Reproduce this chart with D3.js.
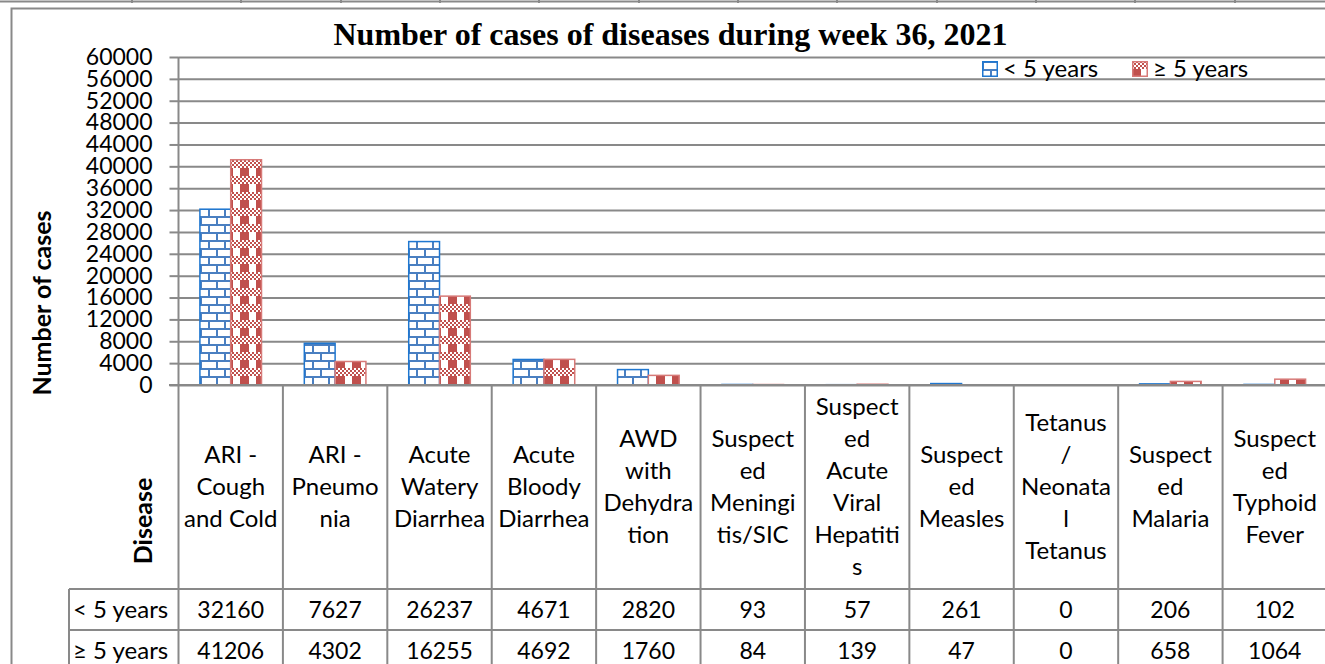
<!DOCTYPE html>
<html>
<head>
<meta charset="utf-8">
<script src="https://cdn.jsdelivr.net/npm/d3@7"></script>
<style>
    html, body { margin: 0; padding: 0; background: #fff; }
    svg { display: block; }
    text { font-family: Lato, "Noto Sans", sans-serif; fill: #000; }
</style>
</head>
<body>
<svg id="chart" width="1325" height="664"></svg>
<script>
// Chart data
var categories = [
    'ARI - Cough and Cold', 'ARI - Pneumonia', 'Acute Watery Diarrhea', 'Acute Bloody Diarrhea',
    'AWD with Dehydration', 'Suspected Meningitis/SIC', 'Suspected Acute Viral Hepatitis',
    'Suspected Measles', 'Tetanus / Neonatal Tetanus', 'Suspected Malaria', 'Suspected Typhoid Fever'
];
// category text as wrapped in the data table cells
var categoryLines = [
    ['ARI -', 'Cough', 'and Cold'],
    ['ARI -', 'Pneumo', 'nia'],
    ['Acute', 'Watery', 'Diarrhea'],
    ['Acute', 'Bloody', 'Diarrhea'],
    ['AWD', 'with', 'Dehydra', 'tion'],
    ['Suspect', 'ed', 'Meningi', 'tis/SIC'],
    ['Suspect', 'ed', 'Acute', 'Viral', 'Hepatiti', 's'],
    ['Suspect', 'ed', 'Measles'],
    ['Tetanus', '/', 'Neonata', 'l', 'Tetanus'],
    ['Suspect', 'ed', 'Malaria'],
    ['Suspect', 'ed', 'Typhoid', 'Fever']
];
var seriesNames = ['< 5 years', '\u2265 5 years'];
var underFive = [32160, 7627, 26237, 4671, 2820, 93, 57, 261, 0, 206, 102];
var fiveAndOver = [41206, 4302, 16255, 4692, 1760, 84, 139, 47, 0, 658, 1064];
var yTicks = d3.range(0, 60001, 4000);

var titleText = 'Number of cases of diseases during week 36, 2021';
var yTitle = 'Number of cases';
var xTitle = 'Disease';

var seriesValues = [underFive, fiveAndOver];

// layout
var W = 1325, H = 664;
var plot = { left: 178.5, right: 1327, top: 57, bottom: 385 };
var table = { labelBottom: 589, row1: 630, row2: 671, headLeft: 69 };
var gridColor = '#898989';
var pageRules = [132, 241, 341, 440, 539, 639, 738, 837, 937, 1036, 1135, 1235];

var svg = d3.select('svg#chart');
var defs = svg.append('defs');

/**
 * Horizontal brick pattern for the under five series.
 */
var brick = defs.append('pattern')
    .attr('id', 'brick')
    .attr('patternUnits', 'userSpaceOnUse')
    .attr('width', 16).attr('height', 16);
brick.append('rect').attr('width', 16).attr('height', 16).attr('fill', '#fff');
brick.append('path')
    .attr('d', 'M0,1H16M0,9H16M1,1V9M9,9V17')
    .attr('stroke', '#4a7fc1').attr('stroke-width', 2).attr('fill', 'none');

/**
 * Plaid pattern for the five and over series.
 */
var plaid = defs.append('pattern')
    .attr('id', 'plaid')
    .attr('patternUnits', 'userSpaceOnUse')
    .attr('width', 16).attr('height', 16);
plaid.append('rect').attr('width', 16).attr('height', 16).attr('fill', '#fff');
for (var py = 0; py < 4; py++) {
    for (var px = 0; px < 8; px++) {
        if ((px + py) % 2 == 0) {
            plaid.append('rect')
                .attr('x', px * 2).attr('y', py * 2)
                .attr('width', 2).attr('height', 2)
                .attr('fill', '#c0504d');
        }
    }
}
plaid.append('rect').attr('x', 0).attr('y', 8).attr('width', 9).attr('height', 8).attr('fill', '#c0504d');

var fills = ['url(#brick)', 'url(#plaid)'];
var strokes = ['#1f77d0', '#d77a78'];

// page remnants above the chart frame
svg.append('line')
    .attr('x1', 0).attr('x2', W).attr('y1', 1.5).attr('y2', 1.5)
    .attr('stroke', gridColor).attr('stroke-width', 2);
svg.selectAll('.pageRule')
    .data(pageRules)
    .enter().append('line')
        .attr('class', 'pageRule')
        .attr('x1', function(d) { return d; }).attr('x2', function(d) { return d; })
        .attr('y1', 0).attr('y2', 3)
        .attr('stroke', gridColor).attr('stroke-width', 2);

// chart frame
svg.append('rect')
    .attr('x', 11.5).attr('y', 8.5)
    .attr('width', W + 20).attr('height', H + 20)
    .attr('fill', 'none').attr('stroke', gridColor).attr('stroke-width', 2);

// scales
var x = d3.scaleBand()
    .domain(categories)
    .range([plot.left, plot.right])
    .paddingInner(0).paddingOuter(0);

var bw = x.bandwidth();
var xs = d3.scaleBand()
    .domain(seriesNames)
    .range([bw * 0.205, bw * 0.795]);

var y = d3.scaleLinear()
    .domain([0, 60000])
    .range([plot.bottom, plot.top]);

// gridlines
var grid = svg.append('g')
    .attr('transform', 'translate(' + plot.left + ',0)')
    .call(d3.axisLeft(y).tickValues(yTicks).tickSize(-(W - plot.left)).tickFormat(''));
grid.select('.domain').remove();
grid.selectAll('line').attr('stroke', gridColor).attr('stroke-width', 2);

// y axis ticks and labels
var yAxis = svg.append('g')
    .attr('transform', 'translate(' + plot.left + ',0)')
    .call(d3.axisLeft(y).tickValues(yTicks).tickSize(9).tickPadding(17).tickFormat(d3.format('d')));
yAxis.select('.domain').remove();
yAxis.selectAll('line').attr('stroke', gridColor).attr('stroke-width', 2);
yAxis.selectAll('text')
    .style('font-family', 'Lato, "Noto Sans", sans-serif')
    .style('font-size', '23px')
    .attr('fill', '#000');

// bars
var groups = svg.selectAll('.series')
    .data(seriesNames)
    .enter().append('g')
        .attr('class', 'series');

groups.each(function(name, si) {
    d3.select(this).selectAll('rect')
        .data(seriesValues[si])
        .enter().append('rect')
            .attr('x', function(d, i) { return x(categories[i]) + xs(name); })
            .attr('y', function(d) { return y(d); })
            .attr('width', xs.bandwidth())
            .attr('height', function(d) { return y(0) - y(d); })
            .attr('fill', fills[si])
            .attr('stroke', function(d) { return d > 0 ? strokes[si] : 'none'; })
            .attr('stroke-width', 1.5);
});

// x axis line, extends left like a tick
svg.append('line')
    .attr('x1', plot.left - 9.5).attr('x2', W)
    .attr('y1', plot.bottom).attr('y2', plot.bottom)
    .attr('stroke', gridColor).attr('stroke-width', 2);

// vertical axis line down through the table
svg.append('line')
    .attr('x1', plot.left).attr('x2', plot.left)
    .attr('y1', plot.top).attr('y2', H)
    .attr('stroke', gridColor).attr('stroke-width', 2);

// data table cell borders
svg.selectAll('.colRule')
    .data(categories.slice(1))
    .enter().append('line')
        .attr('class', 'colRule')
        .attr('x1', function(d) { return x(d); }).attr('x2', function(d) { return x(d); })
        .attr('y1', plot.bottom).attr('y2', H)
        .attr('stroke', gridColor).attr('stroke-width', 2);

svg.selectAll('.rowRule')
    .data([table.labelBottom, table.row1])
    .enter().append('line')
        .attr('class', 'rowRule')
        .attr('x1', table.headLeft).attr('x2', W)
        .attr('y1', function(d) { return d; }).attr('y2', function(d) { return d; })
        .attr('stroke', gridColor).attr('stroke-width', 2);

svg.append('line')
    .attr('x1', table.headLeft).attr('x2', table.headLeft)
    .attr('y1', table.labelBottom).attr('y2', H)
    .attr('stroke', gridColor).attr('stroke-width', 2);

// category labels
var labelMid = (plot.bottom + table.labelBottom) / 2;
var lineH = 32;
var catLabels = svg.selectAll('.catLabel')
    .data(categories)
    .enter().append('text')
        .attr('class', 'catLabel')
        .attr('text-anchor', 'middle')
        .style('font-size', '24px');
catLabels.each(function(d, i) {
    var lines = categoryLines[i];
    var first = labelMid - (lines.length - 1) * lineH / 2;
    d3.select(this).selectAll('tspan')
        .data(lines)
        .enter().append('tspan')
            .attr('x', x(d) + bw / 2)
            .attr('y', function(l, j) { return first + j * lineH; })
            .attr('dy', '0.35em')
            .text(function(l) { return l; });
});

// value rows
var rowMids = [(table.labelBottom + table.row1) / 2, (table.row1 + table.row2) / 2];
seriesNames.forEach(function(name, si) {
    svg.append('text')
        .attr('x', table.headLeft + 4)
        .attr('y', rowMids[si])
        .attr('dy', '0.35em')
        .style('font-size', '24px')
        .text(name);

    svg.selectAll('.val' + si)
        .data(seriesValues[si])
        .enter().append('text')
            .attr('class', 'val' + si)
            .attr('x', function(d, i) { return x(categories[i]) + bw / 2; })
            .attr('y', rowMids[si])
            .attr('dy', '0.35em')
            .attr('text-anchor', 'middle')
            .style('font-size', '23px')
            .text(function(d) { return d; });
});

// title
svg.append('text')
    .attr('x', 670.5)
    .attr('y', 45)
    .attr('text-anchor', 'middle')
    .style('font-family', '"Liberation Serif", "DejaVu Serif", serif')
    .style('font-weight', 'bold')
    .style('font-size', '32px')
    .text(titleText);

// axis titles
svg.append('text')
    .attr('transform', 'translate(42,303) rotate(-90)')
    .attr('text-anchor', 'middle')
    .attr('dy', '0.35em')
    .style('font-weight', 'bold')
    .style('font-size', '25px')
    .text(yTitle);

svg.append('text')
    .attr('transform', 'translate(143,521) rotate(-90)')
    .attr('text-anchor', 'middle')
    .attr('dy', '0.35em')
    .style('font-weight', 'bold')
    .style('font-size', '25px')
    .text(xTitle);

// legend
var legendX = [982, 1132];
var legend = svg.selectAll('.legendItem')
    .data(seriesNames)
    .enter().append('g')
        .attr('class', 'legendItem')
        .attr('transform', function(d, i) { return 'translate(' + legendX[i] + ',61)'; });
legend.append('rect')
    .attr('x', 0.75).attr('y', 0.75)
    .attr('width', 14.5).attr('height', 14.5)
    .attr('fill', function(d, i) { return fills[i]; })
    .attr('stroke', function(d, i) { return strokes[i]; })
    .attr('stroke-width', 1.5);
legend.append('text')
    .attr('x', 21)
    .attr('y', 8)
    .attr('dy', '0.35em')
    .style('font-size', '24px')
    .text(function(d) { return d; });
</script>
</body>
</html>
